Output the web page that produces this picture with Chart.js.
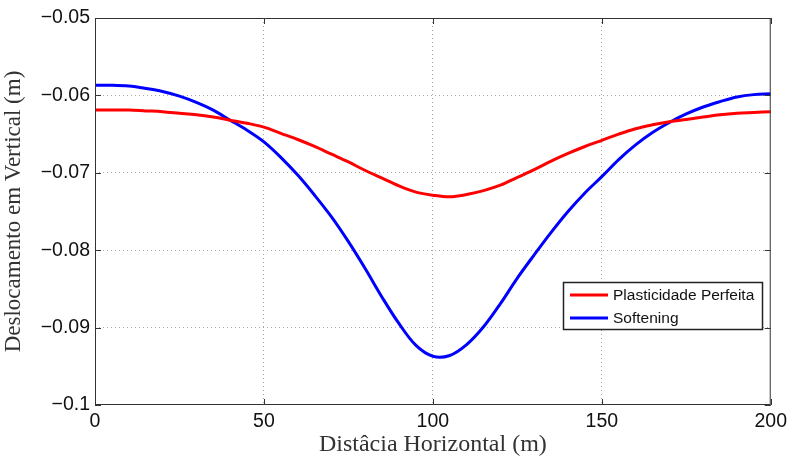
<!DOCTYPE html>
<html>
<head>
<meta charset="utf-8">
<script src="https://cdn.jsdelivr.net/npm/chart.js@4.4.0/dist/chart.umd.min.js"></script>
<style>
  html, body { margin: 0; padding: 0; background: #fff; }
  #wrap { width: 792px; height: 459px; }
</style>
</head>
<body>
<div id="wrap"><canvas id="chart"></canvas></div>
<script>
// horizontal distance (m)
const DIST = [0, 5, 10, 15, 20, 25, 30, 35, 40, 45, 50, 55, 60, 65, 70, 75, 80, 85, 90, 95, 100,
  105, 110, 115, 120, 125, 130, 135, 140, 145, 150, 155, 160, 165, 170, 175, 180, 185, 190, 195, 200];
// vertical displacement (m)
const PLASTICIDADE = [-0.0619, -0.0619, -0.0619, -0.0620, -0.0621, -0.0623, -0.0625, -0.0628, -0.0632, -0.0636,
  -0.0641, -0.0649, -0.0657, -0.0666, -0.0676, -0.0686, -0.0697, -0.0707, -0.0717, -0.0725, -0.0729,
  -0.0731, -0.0728, -0.0723, -0.0716, -0.0706, -0.0696, -0.0685, -0.0675, -0.0666, -0.0658,
  -0.0650, -0.0643, -0.0638, -0.0634, -0.0631, -0.0628, -0.0625, -0.0623, -0.0622, -0.0621];
const SOFTENING = [-0.0587, -0.0587, -0.0588, -0.0591, -0.0595, -0.0601, -0.0609, -0.0619, -0.0632, -0.0645,
  -0.0660, -0.0680, -0.0703, -0.0729, -0.0757, -0.0789, -0.0824, -0.0861, -0.0895, -0.0923, -0.0937,
  -0.0936, -0.0922, -0.0899, -0.0869, -0.0836, -0.0806, -0.0777, -0.0750, -0.0726, -0.0705,
  -0.0683, -0.0664, -0.0648, -0.0635, -0.0624, -0.0615, -0.0608, -0.0602, -0.0599, -0.0598];

const X_TICKS = [0, 50, 100, 150, 200];
const Y_TICKS = [-0.1, -0.09, -0.08, -0.07, -0.06, -0.05];
const Y_TICK_LABELS = ['\u22120.1', '\u22120.09', '\u22120.08', '\u22120.07', '\u22120.06', '\u22120.05'];

const SERIES_NAMES = ['Plasticidade Perfeita', 'Softening'];

const toPoints = ys => DIST.map((x, i) => ({ x, y: ys[i] }));

// MATLAB-ish box, inward ticks and an inside legend
const matlabBox = {
  id: 'matlabBox',
  afterDraw(chart) {
    const { ctx, chartArea: a, scales: { x, y } } = chart;
    ctx.save();
    ctx.strokeStyle = '#333';
    ctx.lineWidth = 1;
    ctx.strokeRect(a.left + 0.5, a.top + 0.5, a.right - a.left - 1, a.bottom - a.top - 1);
    ctx.beginPath();
    X_TICKS.forEach(v => {
      const px = Math.round(x.getPixelForValue(v)) + 0.5;
      ctx.moveTo(px, a.bottom); ctx.lineTo(px, a.bottom - 6);
      ctx.moveTo(px, a.top); ctx.lineTo(px, a.top + 6);
    });
    Y_TICKS.forEach(v => {
      const py = Math.round(y.getPixelForValue(v)) + 0.5;
      ctx.moveTo(a.left, py); ctx.lineTo(a.left + 6, py);
      ctx.moveTo(a.right, py); ctx.lineTo(a.right - 6, py);
    });
    ctx.stroke();

    // legend
    const lx = 563, ly = 282, lw = 199, lh = 47;
    ctx.fillStyle = '#fff';
    ctx.fillRect(lx, ly, lw, lh);
    ctx.strokeStyle = '#222';
    ctx.lineWidth = 1.5;
    ctx.strokeRect(lx + 0.5, ly + 0.5, lw, lh);
    ctx.font = '15.5px "Liberation Sans", Arial, sans-serif';
    ctx.textBaseline = 'middle';
    chart.data.datasets.forEach((ds, i) => {
      const yy = ly + 13 + i * 23;
      ctx.strokeStyle = ds.borderColor;
      ctx.lineWidth = 3;
      ctx.beginPath();
      ctx.moveTo(lx + 7, yy); ctx.lineTo(lx + 45, yy);
      ctx.stroke();
      ctx.fillStyle = '#111';
      ctx.fillText(ds.label, lx + 50, yy + 1);
    });
    ctx.restore();
  }
};

const gridOpts = {
  color: ctx => (ctx.index === 0 || ctx.index === ctx.chart.scales[ctx.scale.id].ticks.length - 1) ? 'rgba(0,0,0,0)' : '#aaa',
  drawTicks: false,
  lineWidth: 1
};

new Chart(document.getElementById('chart'), {
  type: 'line',
  data: {
    datasets: [
      { label: SERIES_NAMES[0], data: toPoints(PLASTICIDADE), borderColor: '#ff0000', borderWidth: 3,
        pointRadius: 0, tension: 0.35, fill: false },
      { label: SERIES_NAMES[1], data: toPoints(SOFTENING), borderColor: '#0000ff', borderWidth: 3,
        pointRadius: 0, tension: 0.35, fill: false }
    ]
  },
  options: {
    responsive: true,
    maintainAspectRatio: false,
    animation: false,
    layout: { padding: { top: 18, right: 19, left: 0, bottom: 0 } },
    plugins: { legend: { display: false }, tooltip: { enabled: false } },
    scales: {
      x: {
        type: 'linear', min: 0, max: 200,
        afterBuildTicks: s => { s.ticks = X_TICKS.map(v => ({ value: v })); },
        afterFit: s => { s.height = 54; },
        grid: gridOpts,
        border: { display: false, dash: [1, 3] },
        ticks: { color: '#111', padding: 5, maxRotation: 0,
          font: { family: '"Liberation Sans", Arial, sans-serif', size: 19.5 } },
        title: { display: true, text: 'Distâcia Horizontal (m)', color: '#333', padding: { top: 0, bottom: 0 },
          font: { family: '"Liberation Serif", "Times New Roman", serif', size: 24 } }
      },
      y: {
        type: 'linear', min: -0.1, max: -0.05,
        afterBuildTicks: s => { s.ticks = Y_TICKS.map(v => ({ value: v })); },
        afterFit: s => { s.width = 95; },
        grid: gridOpts,
        border: { display: false, dash: [1, 3] },
        ticks: { color: '#111', padding: 5,
          callback: (v, i) => Y_TICK_LABELS[i],
          font: { family: '"Liberation Sans", Arial, sans-serif', size: 19.5 } },
        title: { display: true, text: 'Deslocamento em Vertical (m)', color: '#333', padding: { top: 0, bottom: 0 },
          font: { family: '"Liberation Serif", "Times New Roman", serif', size: 23 } }
      }
    }
  },
  plugins: [matlabBox]
});
</script>
</body>
</html>
